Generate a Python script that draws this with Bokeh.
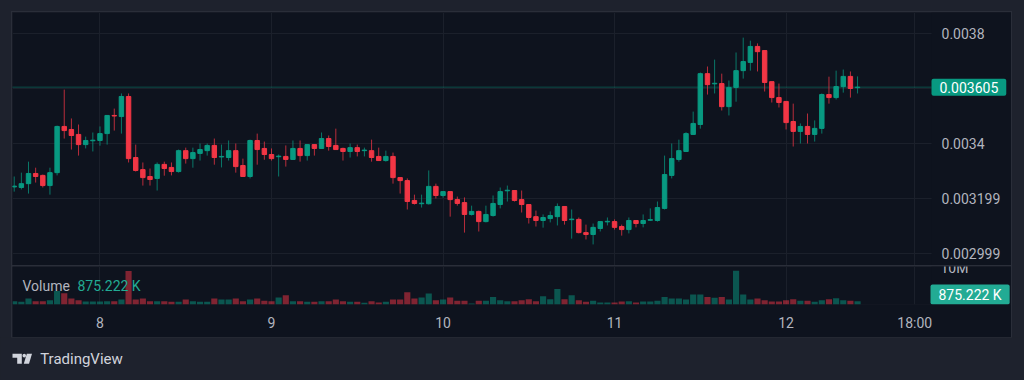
from bokeh.plotting import figure
from bokeh.layouts import column
from bokeh.models import (ColumnDataSource, Range1d, FixedTicker, Span, Label,
                          BoxAnnotation, PolyAnnotation)
from bokeh.embed import file_html
from bokeh.resources import INLINE

# ---------------- data (hourly candles, hour 0 = day 8, 00:00) ----------------
hours = list(range(-12, 107))

opens = [0.003242, 0.003240, 0.003254, 0.003291, 0.003284, 0.003247, 0.003294, 0.003462, 0.003451, 0.003433,
         0.003396, 0.003410, 0.003411, 0.003436, 0.003502, 0.003498, 0.003571, 0.003349, 0.003305, 0.003280,
         0.003273, 0.003324, 0.003313, 0.003298, 0.003374, 0.003345, 0.003364, 0.003374, 0.003393, 0.003351,
         0.003349, 0.003374, 0.003320, 0.003280, 0.003411, 0.003382, 0.003360, 0.003352, 0.003353, 0.003342,
         0.003382, 0.003356, 0.003396, 0.003382, 0.003418, 0.003393, 0.003382, 0.003371, 0.003385, 0.003374,
         0.003374, 0.003353, 0.003338, 0.003353, 0.003276, 0.003265, 0.003193, 0.003181, 0.003181, 0.003244,
         0.003211, 0.003225, 0.003196, 0.003185, 0.003142, 0.003153, 0.003116, 0.003138, 0.003178, 0.003228,
         0.003229, 0.003196, 0.003178, 0.003134, 0.003120, 0.003127, 0.003134, 0.003171, 0.003123, 0.003124,
         0.003076, 0.003069, 0.003091, 0.003115, 0.003116, 0.003098, 0.003087, 0.003120, 0.003109, 0.003121,
         0.003120, 0.003164, 0.003284, 0.003342, 0.003371, 0.003433, 0.003469, 0.003654, 0.003617, 0.003618,
         0.003534, 0.003604, 0.003665, 0.003695, 0.003753, 0.003738, 0.003625, 0.003567, 0.003553, 0.003480,
         0.003444, 0.003462, 0.003433, 0.003455, 0.003578, 0.003567, 0.003607, 0.003644, 0.003603]

highs = [0.003280, 0.003294, 0.003334, 0.003312, 0.003287, 0.003312, 0.003465, 0.003596, 0.003491, 0.003469,
         0.003425, 0.003440, 0.003462, 0.003502, 0.003527, 0.003582, 0.003582, 0.003396, 0.003331, 0.003309,
         0.003331, 0.003334, 0.003331, 0.003378, 0.003385, 0.003385, 0.003400, 0.003400, 0.003418, 0.003396,
         0.003411, 0.003400, 0.003345, 0.003414, 0.003436, 0.003407, 0.003382, 0.003360, 0.003393, 0.003411,
         0.003411, 0.003396, 0.003396, 0.003440, 0.003429, 0.003454, 0.003385, 0.003400, 0.003396, 0.003385,
         0.003414, 0.003385, 0.003374, 0.003367, 0.003276, 0.003273, 0.003214, 0.003214, 0.003302, 0.003254,
         0.003225, 0.003225, 0.003207, 0.003204, 0.003174, 0.003156, 0.003174, 0.003211, 0.003240, 0.003247,
         0.003229, 0.003229, 0.003178, 0.003156, 0.003142, 0.003153, 0.003182, 0.003171, 0.003160, 0.003131,
         0.003105, 0.003109, 0.003116, 0.003131, 0.003124, 0.003105, 0.003131, 0.003120, 0.003142, 0.003164,
         0.003189, 0.003356, 0.003400, 0.003414, 0.003441, 0.003516, 0.003658, 0.003680, 0.003705, 0.003654,
         0.003629, 0.003731, 0.003785, 0.003774, 0.003764, 0.003738, 0.003625, 0.003618, 0.003553, 0.003545,
         0.003473, 0.003509, 0.003484, 0.003582, 0.003643, 0.003665, 0.003669, 0.003662, 0.003644]

lows = [0.003225, 0.003233, 0.003218, 0.003258, 0.003240, 0.003214, 0.003284, 0.003418, 0.003378, 0.003356,
        0.003382, 0.003371, 0.003392, 0.003396, 0.003447, 0.003436, 0.003331, 0.003298, 0.003247, 0.003247,
        0.003229, 0.003283, 0.003284, 0.003294, 0.003327, 0.003312, 0.003338, 0.003356, 0.003323, 0.003313,
        0.003338, 0.003294, 0.003280, 0.003273, 0.003323, 0.003341, 0.003338, 0.003280, 0.003316, 0.003342,
        0.003334, 0.003338, 0.003356, 0.003382, 0.003374, 0.003378, 0.003338, 0.003349, 0.003353, 0.003353,
        0.003334, 0.003338, 0.003334, 0.003254, 0.003218, 0.003160, 0.003178, 0.003167, 0.003178, 0.003200,
        0.003203, 0.003134, 0.003174, 0.003076, 0.003138, 0.003080, 0.003113, 0.003134, 0.003164, 0.003189,
        0.003189, 0.003149, 0.003109, 0.003098, 0.003094, 0.003113, 0.003102, 0.003105, 0.003054, 0.003073,
        0.003051, 0.003033, 0.003080, 0.003102, 0.003087, 0.003065, 0.003073, 0.003095, 0.003095, 0.003118,
        0.003116, 0.003160, 0.003273, 0.003334, 0.003371, 0.003433, 0.003454, 0.003578, 0.003582, 0.003520,
        0.003502, 0.003552, 0.003636, 0.003665, 0.003662, 0.003589, 0.003549, 0.003531, 0.003451, 0.003389,
        0.003400, 0.003400, 0.003407, 0.003436, 0.003545, 0.003560, 0.003585, 0.003567, 0.003582]

closes = [0.003245, 0.003254, 0.003291, 0.003280, 0.003247, 0.003294, 0.003462, 0.003447, 0.003429, 0.003396,
          0.003411, 0.003412, 0.003436, 0.003502, 0.003500, 0.003571, 0.003345, 0.003302, 0.003276, 0.003269,
          0.003324, 0.003309, 0.003298, 0.003374, 0.003345, 0.003367, 0.003378, 0.003393, 0.003349, 0.003353,
          0.003374, 0.003316, 0.003280, 0.003411, 0.003378, 0.003360, 0.003345, 0.003354, 0.003342, 0.003382,
          0.003356, 0.003396, 0.003382, 0.003418, 0.003389, 0.003378, 0.003371, 0.003385, 0.003371, 0.003376,
          0.003349, 0.003338, 0.003353, 0.003276, 0.003265, 0.003189, 0.003182, 0.003183, 0.003244, 0.003211,
          0.003225, 0.003196, 0.003182, 0.003142, 0.003153, 0.003116, 0.003142, 0.003182, 0.003225, 0.003230,
          0.003193, 0.003178, 0.003131, 0.003120, 0.003131, 0.003138, 0.003171, 0.003120, 0.003125, 0.003076,
          0.003069, 0.003095, 0.003116, 0.003117, 0.003095, 0.003087, 0.003120, 0.003109, 0.003120, 0.003123,
          0.003167, 0.003287, 0.003345, 0.003374, 0.003436, 0.003473, 0.003654, 0.003614, 0.003619, 0.003534,
          0.003604, 0.003665, 0.003698, 0.003753, 0.003734, 0.003622, 0.003567, 0.003549, 0.003476, 0.003444,
          0.003462, 0.003433, 0.003455, 0.003578, 0.003567, 0.003607, 0.003644, 0.003600, 0.003605]

volumes = [900000, 740000, 1640000, 900000, 900000, 1170000, 3740000, 3090000, 1640000, 1170000,
           820000, 820000, 820000, 900000, 900000, 1370000, 9210000, 1370000, 1640000, 900000,
           900000, 900000, 740000, 740000, 1370000, 900000, 740000, 740000, 1640000, 1370000,
           1370000, 1640000, 900000, 1370000, 1640000, 1010000, 900000, 1910000, 2540000, 900000,
           900000, 740000, 740000, 900000, 900000, 1370000, 900000, 740000, 740000, 460000,
           900000, 550000, 740000, 1370000, 1370000, 3360000, 1640000, 1910000, 3010000, 1170000,
           1370000, 1910000, 1010000, 1010000, 270000, 1010000, 1010000, 2100000, 1170000, 900000,
           900000, 1170000, 1450000, 900000, 2270000, 1450000, 4290000, 1450000, 2540000, 1170000,
           740000, 1010000, 550000, 550000, 550000, 820000, 900000, 550000, 820000, 820000,
           1010000, 2100000, 1640000, 1640000, 1370000, 2730000, 2730000, 2100000, 1830000, 2100000,
           1370000, 9290000, 2730000, 1370000, 1640000, 1170000, 820000, 820000, 1170000, 1450000,
           1010000, 1010000, 740000, 1170000, 1450000, 1720000, 1170000, 1010000, 875222]

price_ticks = [0.002999, 0.003199, 0.0034, 0.0036, 0.0038]
price_tick_labels = ["0.002999", "0.003199", "0.0034", "", "0.0038"]
time_ticks = [0, 24, 48, 72, 96, 114]
time_tick_labels = ["8", "9", "10", "11", "12", "18:00"]
volume_ticks = [10000000]
volume_tick_labels = ["10M"]
last_price_text = "0.003605"
last_volume_text = "875.222 K"

# ---------------- styling ----------------
OUTER = "#1e222d"
PANEL = "#0e131e"
GRID = "#1b202b"
BORDER = "#2a2e39"
TEXT = "#b2b5be"
UP = "#089981"
DOWN = "#f23645"
FONT = "Roboto"

up_flags = [c >= o for o, c in zip(opens, closes)]
src = ColumnDataSource(dict(
    t=hours, open=opens, high=highs, low=lows, close=closes, vol=volumes,
    top=[max(o, c) for o, c in zip(opens, closes)],
    bottom=[min(o, c) for o, c in zip(opens, closes)],
    color=[UP if u else DOWN for u in up_flags],
))

X_START, X_END = -12.24, 127.54     # full pane width in hours
AXIS_X = 116.35                      # where the price-scale strip starts


def style_axis(a):
    a.axis_line_color = None
    a.major_tick_line_color = None
    a.minor_tick_line_color = None
    a.major_tick_out = 0
    a.major_tick_in = 0
    a.major_label_standoff = 10
    a.major_label_text_color = TEXT
    a.major_label_text_font = FONT
    a.major_label_text_font_size = "14px"


x_range = Range1d(X_START, X_END)

# ---------------- price pane ----------------
p = figure(width=999, height=254, x_range=x_range, y_range=Range1d(0.0029527, 0.0038764),
           output_backend="svg", toolbar_location=None, x_axis_location=None,
           y_axis_location="right", min_border=0)
p.background_fill_color = PANEL
p.border_fill_color = PANEL
p.outline_line_color = None
p.styles = {"outline": "1px solid " + BORDER}
p.margin = (12, 13, 0, 12)

p.xgrid.ticker = FixedTicker(ticks=time_ticks)
p.xgrid.grid_line_color = GRID
p.ygrid.grid_line_color = GRID

ax = p.yaxis[0]
ax.ticker = FixedTicker(ticks=price_ticks)
ax.major_label_overrides = {t: l for t, l in zip(price_ticks, price_tick_labels)}
ax.fixed_location = AXIS_X
style_axis(ax)

p.add_layout(Span(location=closes[-1], dimension="width", line_color=UP,
                  line_alpha=0.9, line_width=1, line_dash="1 1", level="underlay"))
p.add_layout(BoxAnnotation(left=AXIS_X, fill_color=PANEL, fill_alpha=1,
                           line_color=None, level="underlay"))

p.segment(x0="t", y0="low", x1="t", y1="high", source=src, line_color="color",
          line_width=1, line_alpha=0.75)
p.vbar(x="t", width=0.62, top="top", bottom="bottom", source=src,
       fill_color="color", line_color="color", line_width=1)

p.add_layout(Label(x=919, y=closes[-1], x_units="screen", y_units="data",
                   text=last_price_text, text_color="#ffffff", text_font=FONT,
                   text_font_size="14px", text_baseline="middle", text_align="left",
                   background_fill_color=UP, padding=dict(x=8, y=3), border_radius=2))

# ---------------- volume pane ----------------
v = figure(width=999, height=71, x_range=x_range, y_range=Range1d(0, 10468000),
           output_backend="svg", toolbar_location=None, y_axis_location=None,
           min_border=0, min_border_bottom=33)
v.background_fill_color = PANEL
v.border_fill_color = PANEL
v.outline_line_color = None
v.styles = {"outline": "1px solid " + BORDER}
v.margin = (0, 13, 0, 12)
v.xgrid.grid_line_color = GRID
v.xgrid.ticker = FixedTicker(ticks=time_ticks)
v.ygrid.grid_line_color = None

xa = v.xaxis[0]
xa.ticker = FixedTicker(ticks=time_ticks)
xa.major_label_overrides = {t: l for t, l in zip(time_ticks, time_tick_labels)}
style_axis(xa)

v.add_layout(BoxAnnotation(left=AXIS_X, fill_color=PANEL, fill_alpha=1,
                           line_color=None, level="underlay"))

v.vbar(x="t", width=0.86, top="vol", bottom=0, source=src, fill_color="color",
       fill_alpha=0.5, line_color=None)

# volume scale label (cut by the pane's top edge, as in the original)
v.add_layout(Label(x=928, y=volume_ticks[0], x_units="screen", y_units="data",
                   text=volume_tick_labels[0], text_color=TEXT, text_font=FONT,
                   text_font_size="14px", text_baseline="middle"))

v.add_layout(Label(x=10, y=19, x_units="screen", y_units="screen", text="Volume",
                   text_color=TEXT, text_font=FONT, text_font_size="14px",
                   text_baseline="middle"))
v.add_layout(Label(x=65, y=19, x_units="screen", y_units="screen", text=last_volume_text,
                   text_color="#22ab94", text_font=FONT, text_font_size="14px",
                   text_baseline="middle"))
v.add_layout(Label(x=918, y=10, x_units="screen", y_units="screen", text=last_volume_text,
                   text_color="#ffffff", text_font=FONT, text_font_size="14px",
                   text_baseline="middle", text_align="left",
                   background_fill_color="#22ab94", padding=dict(x=8, y=2), border_radius=2))

# ---------------- footer (logo) ----------------
f = figure(width=1024, height=43, x_range=Range1d(0, 1024), y_range=Range1d(0, 43),
           output_backend="svg", toolbar_location=None, x_axis_type=None, y_axis_type=None,
           min_border=0)
f.background_fill_color = OUTER
f.border_fill_color = OUTER
f.outline_line_color = None
LOGO = "#d1d4dc"
f.add_layout(PolyAnnotation(xs=[12, 21.3, 21.3, 16.7, 16.7, 12], ys=[26.7, 26.7, 16.7, 16.7, 22.7, 22.7],
                            xs_units="screen", ys_units="screen", fill_color=LOGO,
                            fill_alpha=1, line_color=None))
f.add_layout(BoxAnnotation(left=22, right=25.5, top=26.7, bottom=23, left_units="screen",
                           right_units="screen", top_units="screen", bottom_units="screen",
                           fill_color=LOGO, fill_alpha=1, line_color=None, border_radius=2))
f.add_layout(PolyAnnotation(xs=[26.3, 31.5, 28.5, 23.3], ys=[26.7, 26.7, 16.7, 16.7],
                            xs_units="screen", ys_units="screen", fill_color=LOGO,
                            fill_alpha=1, line_color=None))
f.add_layout(Label(x=39.7, y=21.7, x_units="screen", y_units="screen", text="TradingView",
                   text_color=LOGO, text_font=FONT, text_font_size="15px",
                   text_baseline="middle"))

layout = column(p, v, f, spacing=0)
layout.styles = {"background-color": OUTER}

template = """{% block preamble %}<style>html, body { background: #1e222d; }</style>{% endblock %}
"""
open("out.html", "w").write(file_html(layout, INLINE, "chart", template=template))
